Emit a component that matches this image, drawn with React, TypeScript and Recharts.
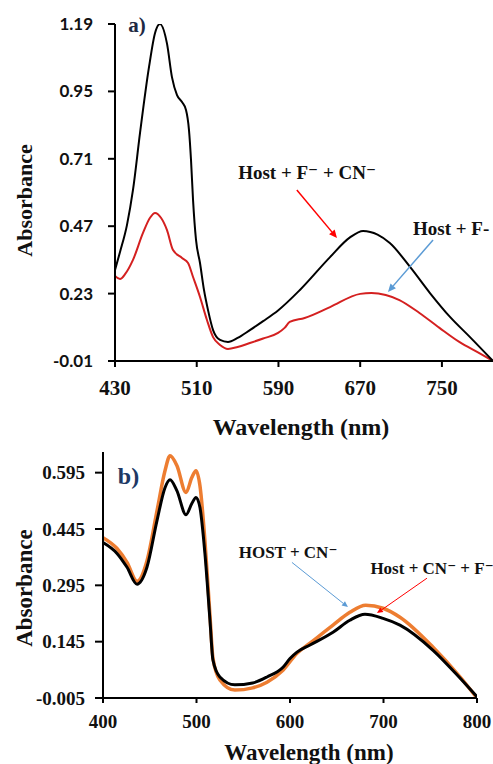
import React from 'react';
import { LineChart, Line, XAxis, YAxis, ReferenceLine, ReferenceDot } from 'recharts';

// ---------- Panel a) ----------
const aXTicks = [430, 510, 590, 670, 750];
const aYTicks = [-0.01, 0.23, 0.47, 0.71, 0.95, 1.19];

// Host + F- + CN- (black)
const aBlackWave = [430, 434.9, 441.7, 447.6, 454.5, 463.3, 469.2, 474, 480.9, 485.8, 490.7, 495.6, 499.5, 502.4, 504.4, 506.4, 509.3, 513.2, 517.1, 521, 526, 532.8, 540.6, 550, 562, 575, 589.6, 611, 640.5, 660, 672.8, 687, 699, 718.8, 738.3, 757.9, 777.5, 800];
const aBlackAbs = [0.314, 0.378, 0.474, 0.599, 0.802, 1.037, 1.158, 1.19, 1.12, 1.0, 0.937, 0.912, 0.884, 0.813, 0.706, 0.563, 0.421, 0.339, 0.243, 0.172, 0.1, 0.065, 0.058, 0.072, 0.1, 0.132, 0.17, 0.243, 0.36, 0.43, 0.453, 0.44, 0.41, 0.325, 0.232, 0.147, 0.075, -0.01];

// Host + F- (red)
const aRedWave = [430, 434.9, 440, 447.6, 457.4, 464.3, 469.2, 475, 480.9, 486.8, 495.6, 501.5, 506.4, 513.2, 520, 526, 532.8, 540.6, 550, 562, 575, 589.6, 596, 601, 615.6, 640.5, 670, 681, 695, 708.4, 728, 747.6, 767, 786.6, 800];
const aRedAbs = [0.293, 0.282, 0.3, 0.35, 0.446, 0.5, 0.517, 0.5, 0.456, 0.385, 0.357, 0.339, 0.289, 0.218, 0.136, 0.075, 0.047, 0.033, 0.04, 0.054, 0.07, 0.09, 0.108, 0.129, 0.143, 0.182, 0.229, 0.232, 0.225, 0.207, 0.161, 0.108, 0.058, 0.018, -0.01];

// ---------- Panel b) ----------
const bXTicks = [400, 500, 600, 700, 800];
const bYTicks = [-0.005, 0.145, 0.295, 0.445, 0.595];

// Host + CN- + F- (black)
const bBlackWave = [400, 415, 425.7, 436.4, 447, 457.8, 466.3, 471.7, 479, 488.8, 495, 499.5, 503.7, 509, 514.4, 517.6, 525, 541, 560, 575.4, 592.5, 600, 607.5, 621.4, 646, 664, 680.2, 699.5, 717.6, 753, 781.8, 800];
const bBlackAbs = [0.409, 0.38, 0.343, 0.298, 0.343, 0.468, 0.555, 0.576, 0.547, 0.483, 0.513, 0.529, 0.502, 0.38, 0.202, 0.096, 0.051, 0.03, 0.035, 0.051, 0.077, 0.1, 0.117, 0.136, 0.17, 0.202, 0.218, 0.207, 0.189, 0.122, 0.048, -0.002];

// HOST + CN- (orange)
const bOrangeWave = [400, 415, 425.7, 436.4, 447, 457.8, 466.3, 471.7, 479, 488.8, 495, 499.5, 503.7, 509, 514.4, 517.6, 525, 541, 560, 575.4, 592.5, 607.5, 621.4, 646, 664, 681, 699.5, 717.6, 753, 781.8, 800];
const bOrangeAbs = [0.422, 0.393, 0.356, 0.306, 0.36, 0.494, 0.6, 0.64, 0.614, 0.542, 0.582, 0.6, 0.56, 0.414, 0.215, 0.101, 0.043, 0.016, 0.022, 0.037, 0.069, 0.114, 0.141, 0.189, 0.223, 0.242, 0.234, 0.21, 0.13, 0.051, -0.005];

const zip = (xs: number[], ys: number[]) => xs.map((x, i) => ({ x, y: ys[i] }));

const aBlack = zip(aBlackWave, aBlackAbs);
const aRed = zip(aRedWave, aRedAbs);
const bBlack = zip(bBlackWave, bBlackAbs);
const bOrange = zip(bOrangeWave, bOrangeAbs);

const SERIF = 'Liberation Serif, Times New Roman, DejaVu Serif, serif';

const arrowShape = (color: string, width: number, head: number) => (props: any) => {
  const { x1, y1, x2, y2 } = props;
  const ang = Math.atan2(y2 - y1, x2 - x1);
  const bx = x2 - head * Math.cos(ang);
  const by = y2 - head * Math.sin(ang);
  const hw = head * 0.45;
  const px = -Math.sin(ang) * hw;
  const py = Math.cos(ang) * hw;
  return (
    <g>
      <line x1={x1} y1={y1} x2={bx} y2={by} stroke={color} strokeWidth={width} />
      <polygon points={`${x2},${y2} ${bx + px},${by + py} ${bx - px},${by - py}`} fill={color} />
    </g>
  );
};

const xTitle = (text: string, size: number, dx: number, dy: number) => (props: any) => {
  const vb = props.viewBox;
  return (
    <text x={vb.x + vb.width / 2 + dx} y={vb.y + dy} textAnchor="middle" style={{ fontFamily: SERIF, fontWeight: 700, fontSize: size }} fill="#111">
      {text}
    </text>
  );
};

const yTitle = (text: string, size: number, bx: number, dy: number) => (props: any) => {
  const vb = props.viewBox;
  const cy = vb.y + vb.height / 2 + dy;
  return (
    <text x={bx} y={cy} transform={`rotate(-90 ${bx} ${cy})`} textAnchor="middle" style={{ fontFamily: SERIF, fontWeight: 700, fontSize: size }} fill="#111">
      {text}
    </text>
  );
};

const labelStyle = (size: number, color = '#111') => ({
  position: 'center' as const,
  fill: color,
  fontSize: size,
  fontWeight: 700,
  fontFamily: SERIF,
  style: { fontFamily: SERIF },
});

const serifTick = (size: number) => ({ fontFamily: SERIF, fontWeight: 700, fontSize: size, fill: '#111', style: { fontFamily: SERIF } });

const axisStroke = { stroke: '#000', strokeWidth: 2 };

export default function App() {
  return (
    <div style={{ position: 'absolute', left: 0, top: 0, width: 493, height: 764, background: '#fff', overflow: 'hidden' }}>
      <div style={{ position: 'absolute', left: 0, top: 0 }}>
        <LineChart width={493} height={440} margin={{ top: 24, right: 0, bottom: 0, left: 0 }}>
          <XAxis
            type="number"
            dataKey="x"
            domain={[430, 800]}
            ticks={aXTicks}
            allowDataOverflow
            height={79}
            tickSize={6}
            tickMargin={13}
            axisLine={axisStroke}
            tickLine={axisStroke}
            tick={serifTick(21)}
            label={{ content: xTitle('Wavelength (nm)', 24, -3, 74) }}
          />
          <YAxis
            type="number"
            domain={[-0.01, 1.19]}
            ticks={aYTicks}
            allowDataOverflow
            width={115}
            tickSize={7}
            tickMargin={15}
            tickFormatter={(v: number) => v.toFixed(2)}
            axisLine={axisStroke}
            tickLine={axisStroke}
            tick={{ fontFamily: 'Lato, Open Sans, sans-serif', fontWeight: 700, fontSize: 17, fill: '#111' }}
            label={{ content: yTitle('Absorbance', 22, 32, 8) }}
          />
          <Line data={aRed} dataKey="y" type="monotone" stroke="#d42020" strokeWidth={2} dot={false} isAnimationActive={false} />
          <Line data={aBlack} dataKey="y" type="monotone" stroke="#000" strokeWidth={2} dot={false} isAnimationActive={false} />
          <ReferenceLine segment={[{ x: 608, y: 0.599 }, { x: 647.3, y: 0.428 }]} ifOverflow="visible" shape={arrowShape('#ff0000', 1.5, 8)} />
          <ReferenceLine segment={[{ x: 741.3, y: 0.421 }, { x: 697.2, y: 0.236 }]} ifOverflow="visible" shape={arrowShape('#5b9bd5', 1.5, 8)} />
          <ReferenceDot x={618} y={0.663} r={0} ifOverflow="visible" label={{ value: 'Host + F⁻ + CN⁻', ...labelStyle(19) }} />
          <ReferenceDot x={759} y={0.464} r={0} ifOverflow="visible" label={{ value: 'Host + F-', ...labelStyle(19) }} />
          <ReferenceDot x={451.5} y={1.187} r={0} ifOverflow="visible" label={{ value: 'a)', ...labelStyle(21, '#1f2a44') }} />
        </LineChart>
      </div>
      <div style={{ position: 'absolute', left: 0, top: 430 }}>
        <LineChart width={493} height={334} margin={{ top: 22, right: 16, bottom: 0, left: 0 }}>
          <XAxis
            type="number"
            dataKey="x"
            domain={[400, 800]}
            ticks={bXTicks}
            allowDataOverflow
            height={66}
            tickSize={5}
            tickMargin={12}
            axisLine={axisStroke}
            tickLine={axisStroke}
            tick={serifTick(19)}
            label={{ content: xTitle('Wavelength (nm)', 23, 19, 62) }}
          />
          <YAxis
            type="number"
            domain={[-0.005, 0.65]}
            ticks={bYTicks}
            allowDataOverflow
            width={103}
            tickSize={8}
            tickMargin={10}
            tickFormatter={(v: number) => v.toFixed(3)}
            axisLine={axisStroke}
            tickLine={axisStroke}
            tick={serifTick(19)}
            label={{ content: yTitle('Absorbance', 23, 32, 13) }}
          />
          <Line data={bOrange} dataKey="y" type="monotone" stroke="#ed7d31" strokeWidth={3.5} dot={false} isAnimationActive={false} />
          <Line data={bBlack} dataKey="y" type="monotone" stroke="#000" strokeWidth={3} dot={false} isAnimationActive={false} />
          <ReferenceLine segment={[{ x: 602.1, y: 0.356 }, { x: 662, y: 0.237 }]} ifOverflow="visible" shape={arrowShape('#5b9bd5', 1, 6)} />
          <ReferenceLine segment={[{ x: 746.5, y: 0.314 }, { x: 693, y: 0.221 }]} ifOverflow="visible" shape={arrowShape('#ff0000', 1, 6)} />
          <ReferenceDot x={597.9} y={0.383} r={0} ifOverflow="visible" label={{ value: 'HOST + CN⁻', ...labelStyle(17) }} />
          <ReferenceDot x={751.9} y={0.34} r={0} ifOverflow="visible" label={{ value: 'Host + CN⁻ + F⁻', ...labelStyle(17) }} />
          <ReferenceDot x={427.3} y={0.587} r={0} ifOverflow="visible" label={{ value: 'b)', ...labelStyle(24, '#203864') }} />
        </LineChart>
      </div>
    </div>
  );
}
